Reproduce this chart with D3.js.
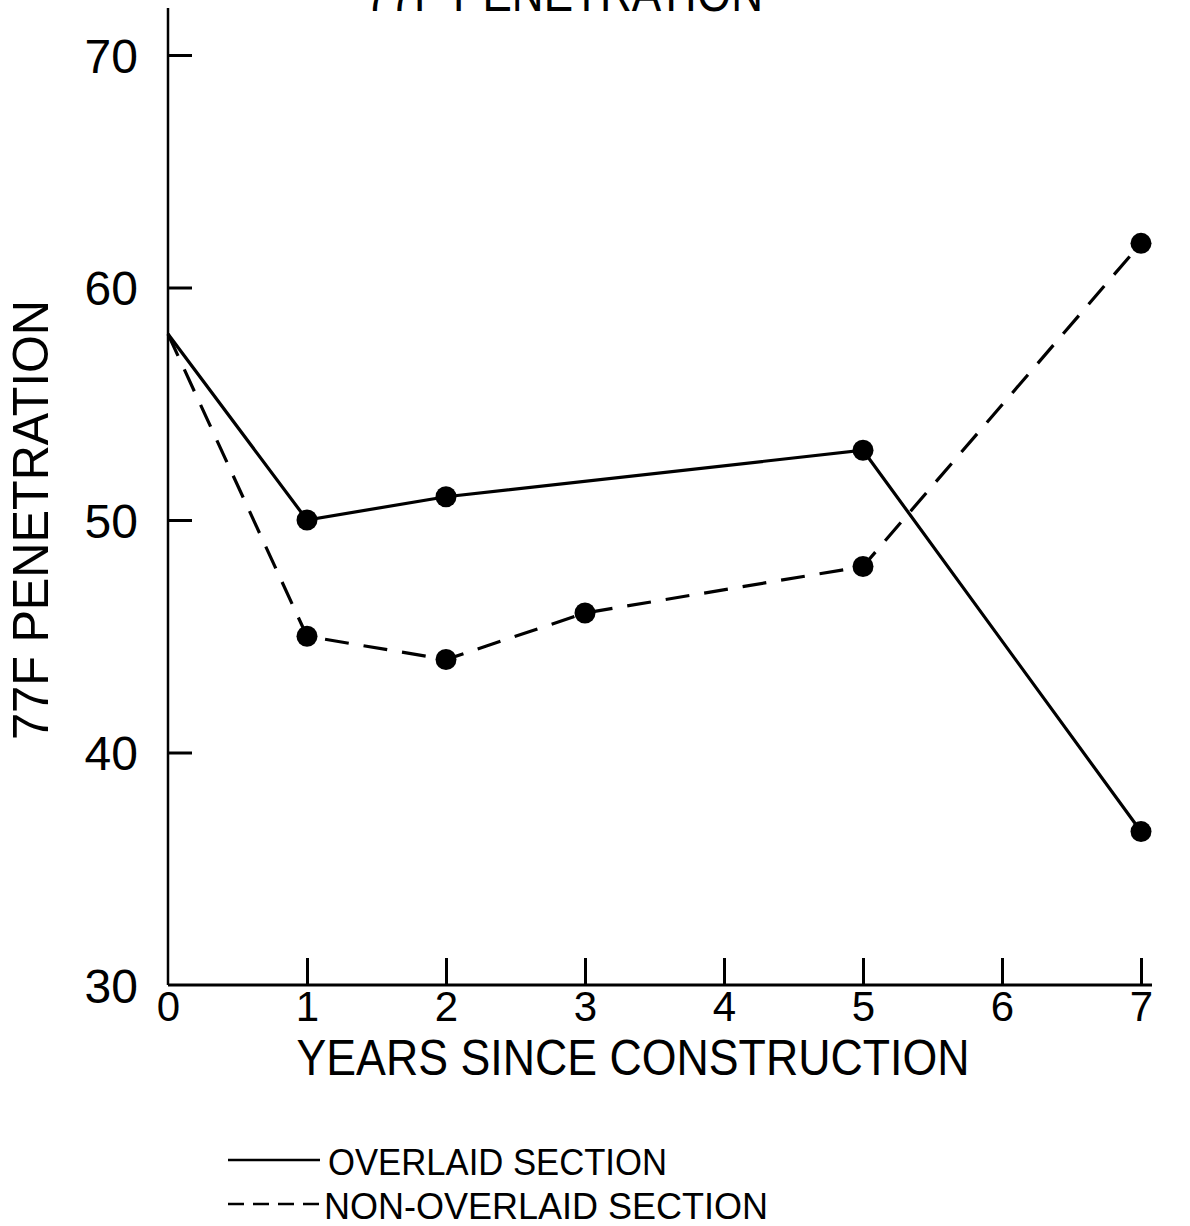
<!DOCTYPE html>
<html><head><meta charset="utf-8">
<script src="https://cdn.jsdelivr.net/npm/d3@7"></script>
<style>body{margin:0;background:#fff}svg{display:block}text{font-family:"Liberation Sans",Arial,sans-serif;fill:#000}</style>
</head><body><svg id="c" width="1190" height="1226"></svg>
<script>
const years = [0,1,2,3,4,5,6,7];
const yTicks = [30,40,50,60,70];
const overlaidYears = [0,1,2,5,7];
const overlaidValues = [58,50,51,53,36.6];
const nonOverlaidYears = [0,1,2,3,5,7];
const nonOverlaidValues = [58,45,44,46,48,61.9];
const legendLabels = ["OVERLAID SECTION","NON-OVERLAID SECTION"];

const svg = d3.select("#c");
const x = d3.scaleLinear().domain([0,7]).range([168,1141]);
const y = d3.scaleLinear().domain([30,70]).range([985,55]);

// y axis
const ya = svg.append("g").attr("transform","translate(168,0)")
  .call(d3.axisLeft(y).tickValues(yTicks).tickSizeInner(-24).tickSizeOuter(0).tickPadding(30).tickFormat(d3.format("d")));
ya.select(".domain").remove();
ya.selectAll(".tick line").attr("stroke","#000").attr("stroke-width",3)
  .filter(d=>d===30).remove();
ya.selectAll(".tick text").attr("font-size",48).attr("dy","0.36em").attr("x",-30);
svg.append("line").attr("x1",168).attr("x2",168).attr("y1",8).attr("y2",y(30)).attr("stroke","#000").attr("stroke-width",2.5);

// x axis
const xa = svg.append("g").attr("transform",`translate(0,${y(30)})`)
  .call(d3.axisBottom(x).tickValues(years).tickSizeInner(-27).tickSizeOuter(0).tickPadding(6).tickFormat(d3.format("d")));
xa.select(".domain").remove();
xa.selectAll(".tick line").attr("stroke","#000").attr("stroke-width",3).filter(d=>d===0).remove();
xa.selectAll(".tick text").attr("font-size",42).attr("dy","0.72em");
svg.append("line").attr("x1",168).attr("x2",1152).attr("y1",y(30)).attr("y2",y(30)).attr("stroke","#000").attr("stroke-width",3);

// titles
svg.append("text").attr("x",564).attr("y",11).attr("text-anchor","middle").attr("font-size",52)
  .attr("textLength",398).attr("lengthAdjust","spacingAndGlyphs").text("77F PENETRATION");
svg.append("text").attr("transform","translate(48,520) rotate(-90)").attr("text-anchor","middle").attr("font-size",50)
  .attr("textLength",440).attr("lengthAdjust","spacingAndGlyphs").text("77F PENETRATION");
svg.append("text").attr("x",633).attr("y",1075).attr("text-anchor","middle").attr("font-size",50)
  .attr("textLength",673).attr("lengthAdjust","spacingAndGlyphs").text("YEARS SINCE CONSTRUCTION");

// series
const line = d3.line().x(d=>x(d[0])).y(d=>y(d[1]));
const s1 = overlaidYears.map((v,i)=>[v,overlaidValues[i]]);
const s2 = nonOverlaidYears.map((v,i)=>[v,nonOverlaidValues[i]]);
svg.append("path").datum(s1).attr("d",line).attr("fill","none").attr("stroke","#000").attr("stroke-width",3.2);
svg.append("path").datum(s2).attr("d",line).attr("fill","none").attr("stroke","#000").attr("stroke-width",3.2).attr("stroke-dasharray","24,15");
svg.selectAll("circle.a").data(s1.slice(1)).enter().append("circle").attr("cx",d=>x(d[0])).attr("cy",d=>y(d[1])).attr("r",10.5).attr("fill","#000");
svg.selectAll("circle.b").data(s2.slice(1)).enter().append("circle").attr("cx",d=>x(d[0])).attr("cy",d=>y(d[1])).attr("r",10.5).attr("fill","#000");

// legend
svg.append("line").attr("x1",228).attr("x2",320).attr("y1",1160).attr("y2",1160).attr("stroke","#000").attr("stroke-width",2.5);
svg.append("line").attr("x1",228).attr("x2",322).attr("y1",1204).attr("y2",1204).attr("stroke","#000").attr("stroke-width",2.5).attr("stroke-dasharray","16,9");
svg.append("text").attr("x",328).attr("y",1175).attr("font-size",36).attr("textLength",339).attr("lengthAdjust","spacingAndGlyphs").text(legendLabels[0]);
svg.append("text").attr("x",324).attr("y",1219).attr("font-size",36).attr("textLength",444).attr("lengthAdjust","spacingAndGlyphs").text(legendLabels[1]);
</script></body></html>
